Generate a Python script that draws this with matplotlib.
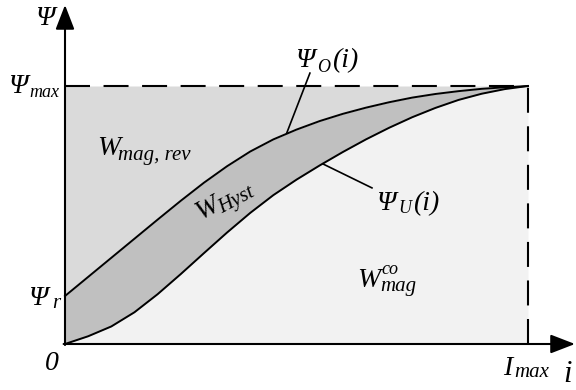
import numpy as np
import matplotlib
matplotlib.use("Agg")
import matplotlib.pyplot as plt

# flux linkage over current, normalised to I_max and Psi_max
I_MAX = 1.0
PSI_MAX = 1.0
current = [0.0, 0.05, 0.10, 0.15, 0.20, 0.25, 0.30, 0.35, 0.40, 0.45, 0.50,
           0.55, 0.60, 0.65, 0.70, 0.75, 0.80, 0.85, 0.90, 0.95, 1.0]
psi_upper = [0.186, 0.260, 0.334, 0.408, 0.482, 0.555, 0.625, 0.689, 0.746, 0.793, 0.831,
             0.864, 0.892, 0.916, 0.937, 0.955, 0.969, 0.980, 0.989, 0.995, 1.0]
psi_lower = [0.0, 0.030, 0.068, 0.123, 0.193, 0.271, 0.352, 0.432, 0.508, 0.577, 0.637,
             0.692, 0.744, 0.793, 0.838, 0.879, 0.915, 0.946, 0.970, 0.988, 1.0]
PSI_R = psi_upper[0]

i = np.array(current)
up = np.array(psi_upper)
lo = np.array(psi_lower)

fig = plt.figure(figsize=(5.76, 3.90), dpi=100)
ax = fig.add_axes([0, 0, 1, 1])
ax.set_xlim(-0.1404, 1.1037)
ax.set_ylim(-0.1783, 1.3333)
ax.axis("off")

# energy areas
ax.fill_between(i, 0, lo, color="#f2f2f2", lw=0, zorder=1)
ax.fill_between(i, lo, up, color="#c0c0c0", lw=0, zorder=1)
ax.fill_between(i, up, PSI_MAX, color="#dadada", lw=0, zorder=1)

ax.plot(i, up, color="black", lw=1.4, zorder=3, solid_joinstyle="round")
ax.plot(i, lo, color="black", lw=1.4, zorder=3, solid_joinstyle="round")

# limits
dash = dict(color="black", lw=1.5, dashes=(12, 6.5), zorder=2)
ax.plot([0, I_MAX], [PSI_MAX, PSI_MAX], **dash)
ax.plot([I_MAX, I_MAX], [0, PSI_MAX], **dash)

# axes with arrow heads
arrow = dict(arrowstyle="-|>,head_length=0.75,head_width=0.29", color="black",
             lw=1.5, mutation_scale=20, shrinkA=0, shrinkB=0)
ax.annotate("", xy=(0, 1.314), xytext=(0, -0.004), arrowprops=arrow, zorder=4)
ax.annotate("", xy=(1.1015, 0), xytext=(-0.003, 0), arrowprops=arrow, zorder=4)

# leader lines to the curve labels
ax.plot([0.529, 0.479], [1.050, 0.818], color="black", lw=1.2, zorder=3)
ax.plot([0.557, 0.663], [0.698, 0.605], color="black", lw=1.2, zorder=3)

font = dict(family="Liberation Serif", style="italic", color="black")
big, small = 20, 15


def label(x, y, s, size=big, **kw):
    ax.text(x, y, s, fontsize=size, ha="left", va="baseline", zorder=5, **font, **kw)


label(-0.065, 1.236, "Ψ")
label(-0.123, 0.973, "Ψ")
label(-0.078, 0.957, "max", 13)
label(-0.080, 0.151, "Ψ")
label(-0.028, 0.140, "r", small)
label(-0.043, -0.101, "0")
label(0.946, -0.120, "I")
label(0.970, -0.128, "max", small)
label(1.076, -0.147, "i", 22)

label(0.497, 1.074, "Ψ")
label(0.545, 1.054, "O", 13)
label(0.576, 1.074, "(i)")
label(0.672, 0.519, "Ψ")
label(0.720, 0.508, "U", 13)
label(0.751, 0.519, "(i)")

label(0.069, 0.733, "W")
label(0.114, 0.713, "mag, rev", small)
label(0.631, 0.221, "W")
label(0.684, 0.272, "co", 13)
label(0.680, 0.205, "mag", small)

label(0.292, 0.481, "W", rotation=28, rotation_mode="anchor")
label(0.339, 0.504, "Hyst", small, rotation=28, rotation_mode="anchor")

fig.savefig("out.png", dpi=100)
